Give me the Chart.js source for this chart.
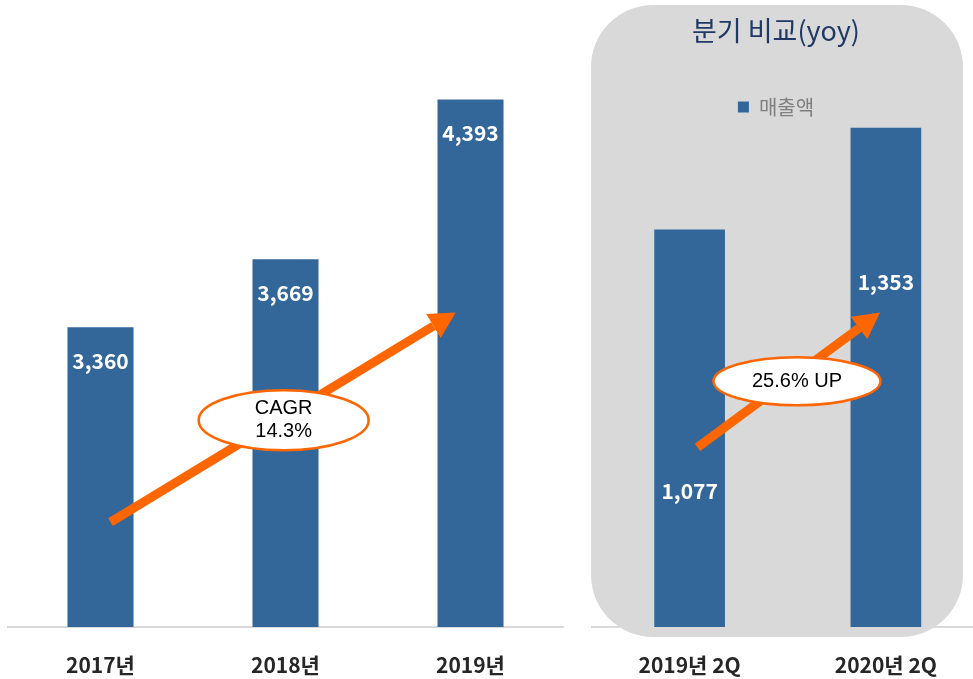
<!DOCTYPE html>
<html>
<head>
<meta charset="utf-8">
<script src="https://cdn.jsdelivr.net/npm/chart.js@4.4.1/dist/chart.umd.min.js"></script>
<style>
body { margin: 0; width: 973px; height: 679px; overflow: hidden; position: relative; background: #fff; }
#panel { position: absolute; left: 591px; top: 5px; width: 372px; height: 632px; border-radius: 62px; background: #d9d9d9; }
#yearChart { position: absolute; left: 0; top: 0; }
#quarterChart { position: absolute; left: 568px; top: 0; }
</style>
</head>
<body>
<div id="panel"></div>
<canvas id="yearChart" width="566" height="679"></canvas>
<canvas id="quarterChart" width="416" height="679"></canvas>
<script>
const yearLabels = ['2017년', '2018년', '2019년']
const yearSales = [3360, 3669, 4393]
const quarterLabels = ['2019년 2Q', '2020년 2Q']
const quarterSales = [1077, 1353]
const seriesName = '매출액'
const quarterTitle = '분기 비교(yoy)'
const cagrText = ['CAGR', '14.3%']
const yoyText = ['25.6% UP']

const FONT = '"Noto Sans CJK KR", "Noto Sans", sans-serif'
const BAR = '#336699'
const ORANGE = '#ff6600'

Chart.defaults.font.family = FONT

// white numbers inside the bars
const valueLabels = {
    id: 'valueLabels',
    afterDatasetsDraw(chart, args, opts) {
        const ctx = chart.ctx
        const meta = chart.getDatasetMeta(0)
        ctx.save()
        ctx.fillStyle = '#fff'
        ctx.font = 'bold 21px ' + FONT
        ctx.textAlign = 'center'
        ctx.textBaseline = 'middle'
        meta.data.forEach((bar, i) => {
            const v = chart.data.datasets[0].data[i]
            ctx.fillText(v.toLocaleString('en-US'), bar.x, bar.y + opts.offsets[i])
        })
        ctx.restore()
    }
}

// orange growth arrow with the oval callout
const growthArrow = {
    id: 'growthArrow',
    afterDraw(chart, args, opts) {
        const ctx = chart.ctx
        const xs = chart.scales.x
        const ys = chart.scales.y
        const x0 = xs.getPixelForValue(opts.from[0]), y0 = ys.getPixelForValue(opts.from[1])
        const x1 = xs.getPixelForValue(opts.to[0]), y1 = ys.getPixelForValue(opts.to[1])
        const ang = Math.atan2(y1 - y0, x1 - x0)
        const headLen = 26, headW = 14
        const bx = x1 - Math.cos(ang) * headLen, by = y1 - Math.sin(ang) * headLen

        ctx.save()
        ctx.strokeStyle = ORANGE
        ctx.fillStyle = ORANGE
        ctx.lineWidth = 9
        ctx.beginPath()
        ctx.moveTo(x0, y0)
        ctx.lineTo(bx, by)
        ctx.stroke()
        ctx.beginPath()
        ctx.moveTo(x1, y1)
        ctx.lineTo(bx + Math.sin(ang) * headW, by - Math.cos(ang) * headW)
        ctx.lineTo(bx - Math.sin(ang) * headW, by + Math.cos(ang) * headW)
        ctx.closePath()
        ctx.fill()

        const cx = xs.getPixelForValue(opts.oval[0]), cy = ys.getPixelForValue(opts.oval[1])
        ctx.beginPath()
        ctx.ellipse(cx, cy, opts.size[0] / 2, opts.size[1] / 2, 0, 0, Math.PI * 2)
        ctx.fillStyle = '#fff'
        ctx.fill()
        ctx.lineWidth = 2.5
        ctx.strokeStyle = ORANGE
        ctx.stroke()

        ctx.fillStyle = '#000'
        ctx.font = '20px "Liberation Sans", Arial, sans-serif'
        ctx.textAlign = 'center'
        ctx.textBaseline = 'middle'
        const lh = 23
        opts.text.forEach((t, i) => {
            ctx.fillText(t, cx, cy + (i - (opts.text.length - 1) / 2) * lh)
        })
        ctx.restore()
    }
}

const xAxis = {
    grid: { display: false, drawTicks: false },
    border: { color: '#d9d9d9', width: 2 },
    ticks: { color: '#262626', font: { size: 21, weight: 'bold' }, padding: 25 },
    afterFit: s => { s.height = 52 }
}

new Chart(document.getElementById('yearChart'), {
    type: 'bar',
    data: {
        labels: yearLabels,
        datasets: [{
            label: seriesName,
            data: yearSales,
            backgroundColor: BAR,
            categoryPercentage: 1,
            barPercentage: 0.357
        }]
    },
    options: {
        responsive: false,
        animation: false,
        layout: { padding: { left: 8, right: 3, top: 76 } },
        scales: {
            x: xAxis,
            y: { display: false, min: 2000, max: 4500 }
        },
        plugins: {
            legend: { display: false },
            tooltip: { enabled: false },
            valueLabels: { offsets: [34, 34, 33] },
            growthArrow: { from: [0.054, 2476], to: [1.92, 3427], oval: [0.99, 2938], size: [170, 60], text: cagrText }
        }
    },
    plugins: [valueLabels, growthArrow]
})

new Chart(document.getElementById('quarterChart'), {
    type: 'bar',
    data: {
        labels: quarterLabels,
        datasets: [{
            label: seriesName,
            data: quarterSales,
            backgroundColor: BAR,
            categoryPercentage: 1,
            barPercentage: 0.36,
            clip: false
        }]
    },
    options: {
        responsive: false,
        animation: false,
        scales: {
            x: xAxis,
            y: {
                min: 0, max: 1355,
                grid: { display: false },
                border: { display: false },
                ticks: { display: false },
                afterFit: s => { s.width = 23.5 }
            }
        },
        plugins: {
            title: {
                display: true, text: quarterTitle, color: '#1f3864',
                font: { size: 27, weight: 'normal' },
                padding: { top: 15, bottom: 47.6 }
            },
            legend: {
                labels: { boxWidth: 11, boxHeight: 11, color: '#7f7f7f', font: { size: 20 }, padding: 2 }
            },
            tooltip: { enabled: false },
            valueLabels: { offsets: [261, 154] },
            growthArrow: { from: [0.04, 487], to: [0.97, 852], oval: [0.547, 666], size: [167, 48], text: yoyText }
        }
    },
    plugins: [valueLabels, growthArrow]
})
</script>
</body>
</html>
